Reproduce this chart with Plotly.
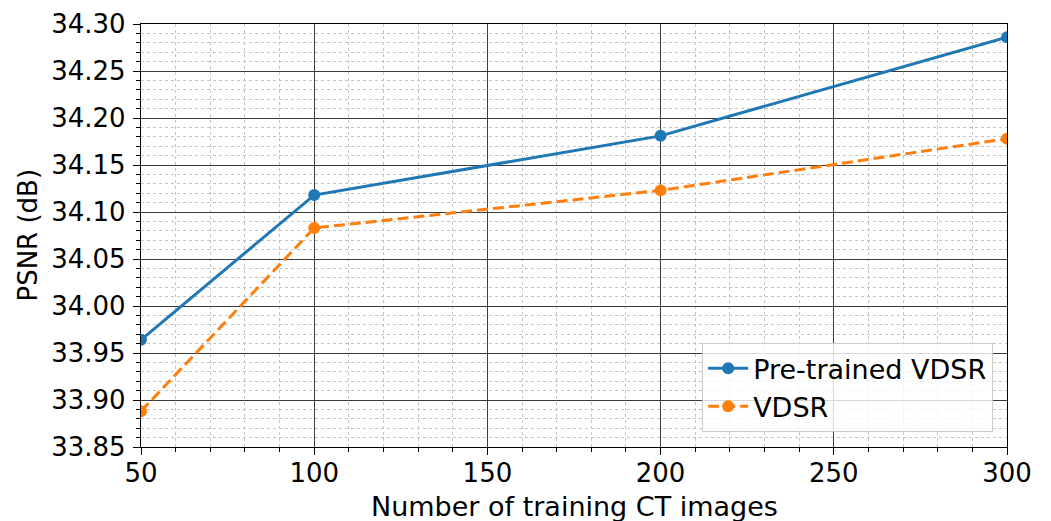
import plotly.graph_objects as go

x_vals = [50, 100, 200, 300]
pretrained_vdsr = [33.964, 34.118, 34.181, 34.286]
vdsr = [33.888, 34.083, 34.123, 34.178]
series_names = ["Pre-trained VDSR", "VDSR"]
x_title = "Number of training CT images"
y_title = "PSNR (dB)"

FONT = "DejaVu Sans"

fig = go.Figure()
fig.add_trace(go.Scatter(
    x=x_vals, y=pretrained_vdsr, name=series_names[0], mode="lines+markers",
    line=dict(color="#1f77b4", width=3),
    marker=dict(color="#1f77b4", size=12),
))
fig.add_trace(go.Scatter(
    x=x_vals, y=vdsr, name=series_names[1], mode="lines+markers",
    line=dict(color="#ff7f0e", width=3, dash="11px,5px"),
    marker=dict(color="#ff7f0e", size=12),
))

axis_common = dict(
    showline=True, linecolor="black", linewidth=1.3, mirror=True,
    ticks="outside", ticklen=7, tickwidth=1.2, tickcolor="black",
    showgrid=True, gridcolor="#3c3c3c", gridwidth=1,
    zeroline=False, automargin=False,
    tickfont=dict(family=FONT, size=26, color="black"),
)

fig.update_xaxes(
    **axis_common,
    range=[50, 300], tick0=50, dtick=50,
    ticklabelstandoff=-4,
    minor=dict(dtick=10, ticks="outside", ticklen=4, tickcolor="black", tickwidth=1,
               showgrid=True, gridcolor="#c4c4c4", griddash="dot", gridwidth=1),
)
fig.update_yaxes(
    **axis_common,
    range=[33.85, 34.30], tick0=33.85, dtick=0.05, tickformat=".2f",
    ticklabelstandoff=2,
    minor=dict(dtick=0.01, ticks="outside", ticklen=4, tickcolor="black", tickwidth=1,
               showgrid=True, gridcolor="#c4c4c4", griddash="dot", gridwidth=1),
)

fig.add_annotation(
    text=x_title, xref="paper", yref="paper", x=0.5, y=-0.14,
    xanchor="center", yanchor="middle", showarrow=False,
    font=dict(family=FONT, size=27, color="black"),
)
fig.add_annotation(
    text=y_title, xref="paper", yref="paper", x=-0.1316, y=0.5,
    xanchor="center", yanchor="middle", showarrow=False, textangle=-90,
    font=dict(family=FONT, size=26, color="black"),
)

fig.update_layout(
    width=1051, height=521,
    margin=dict(l=141, r=44, t=24, b=74),
    plot_bgcolor="white", paper_bgcolor="white",
    font=dict(family=FONT, size=27, color="black"),
    legend=dict(
        x=0.984, y=0.035, xanchor="right", yanchor="bottom",
        bgcolor="rgba(255,255,255,0.8)", bordercolor="#cccccc", borderwidth=1,
        font=dict(family=FONT, size=27, color="black"),
        itemwidth=40, tracegroupgap=0,
    ),
    showlegend=True,
)

fig.write_html("out.html")
